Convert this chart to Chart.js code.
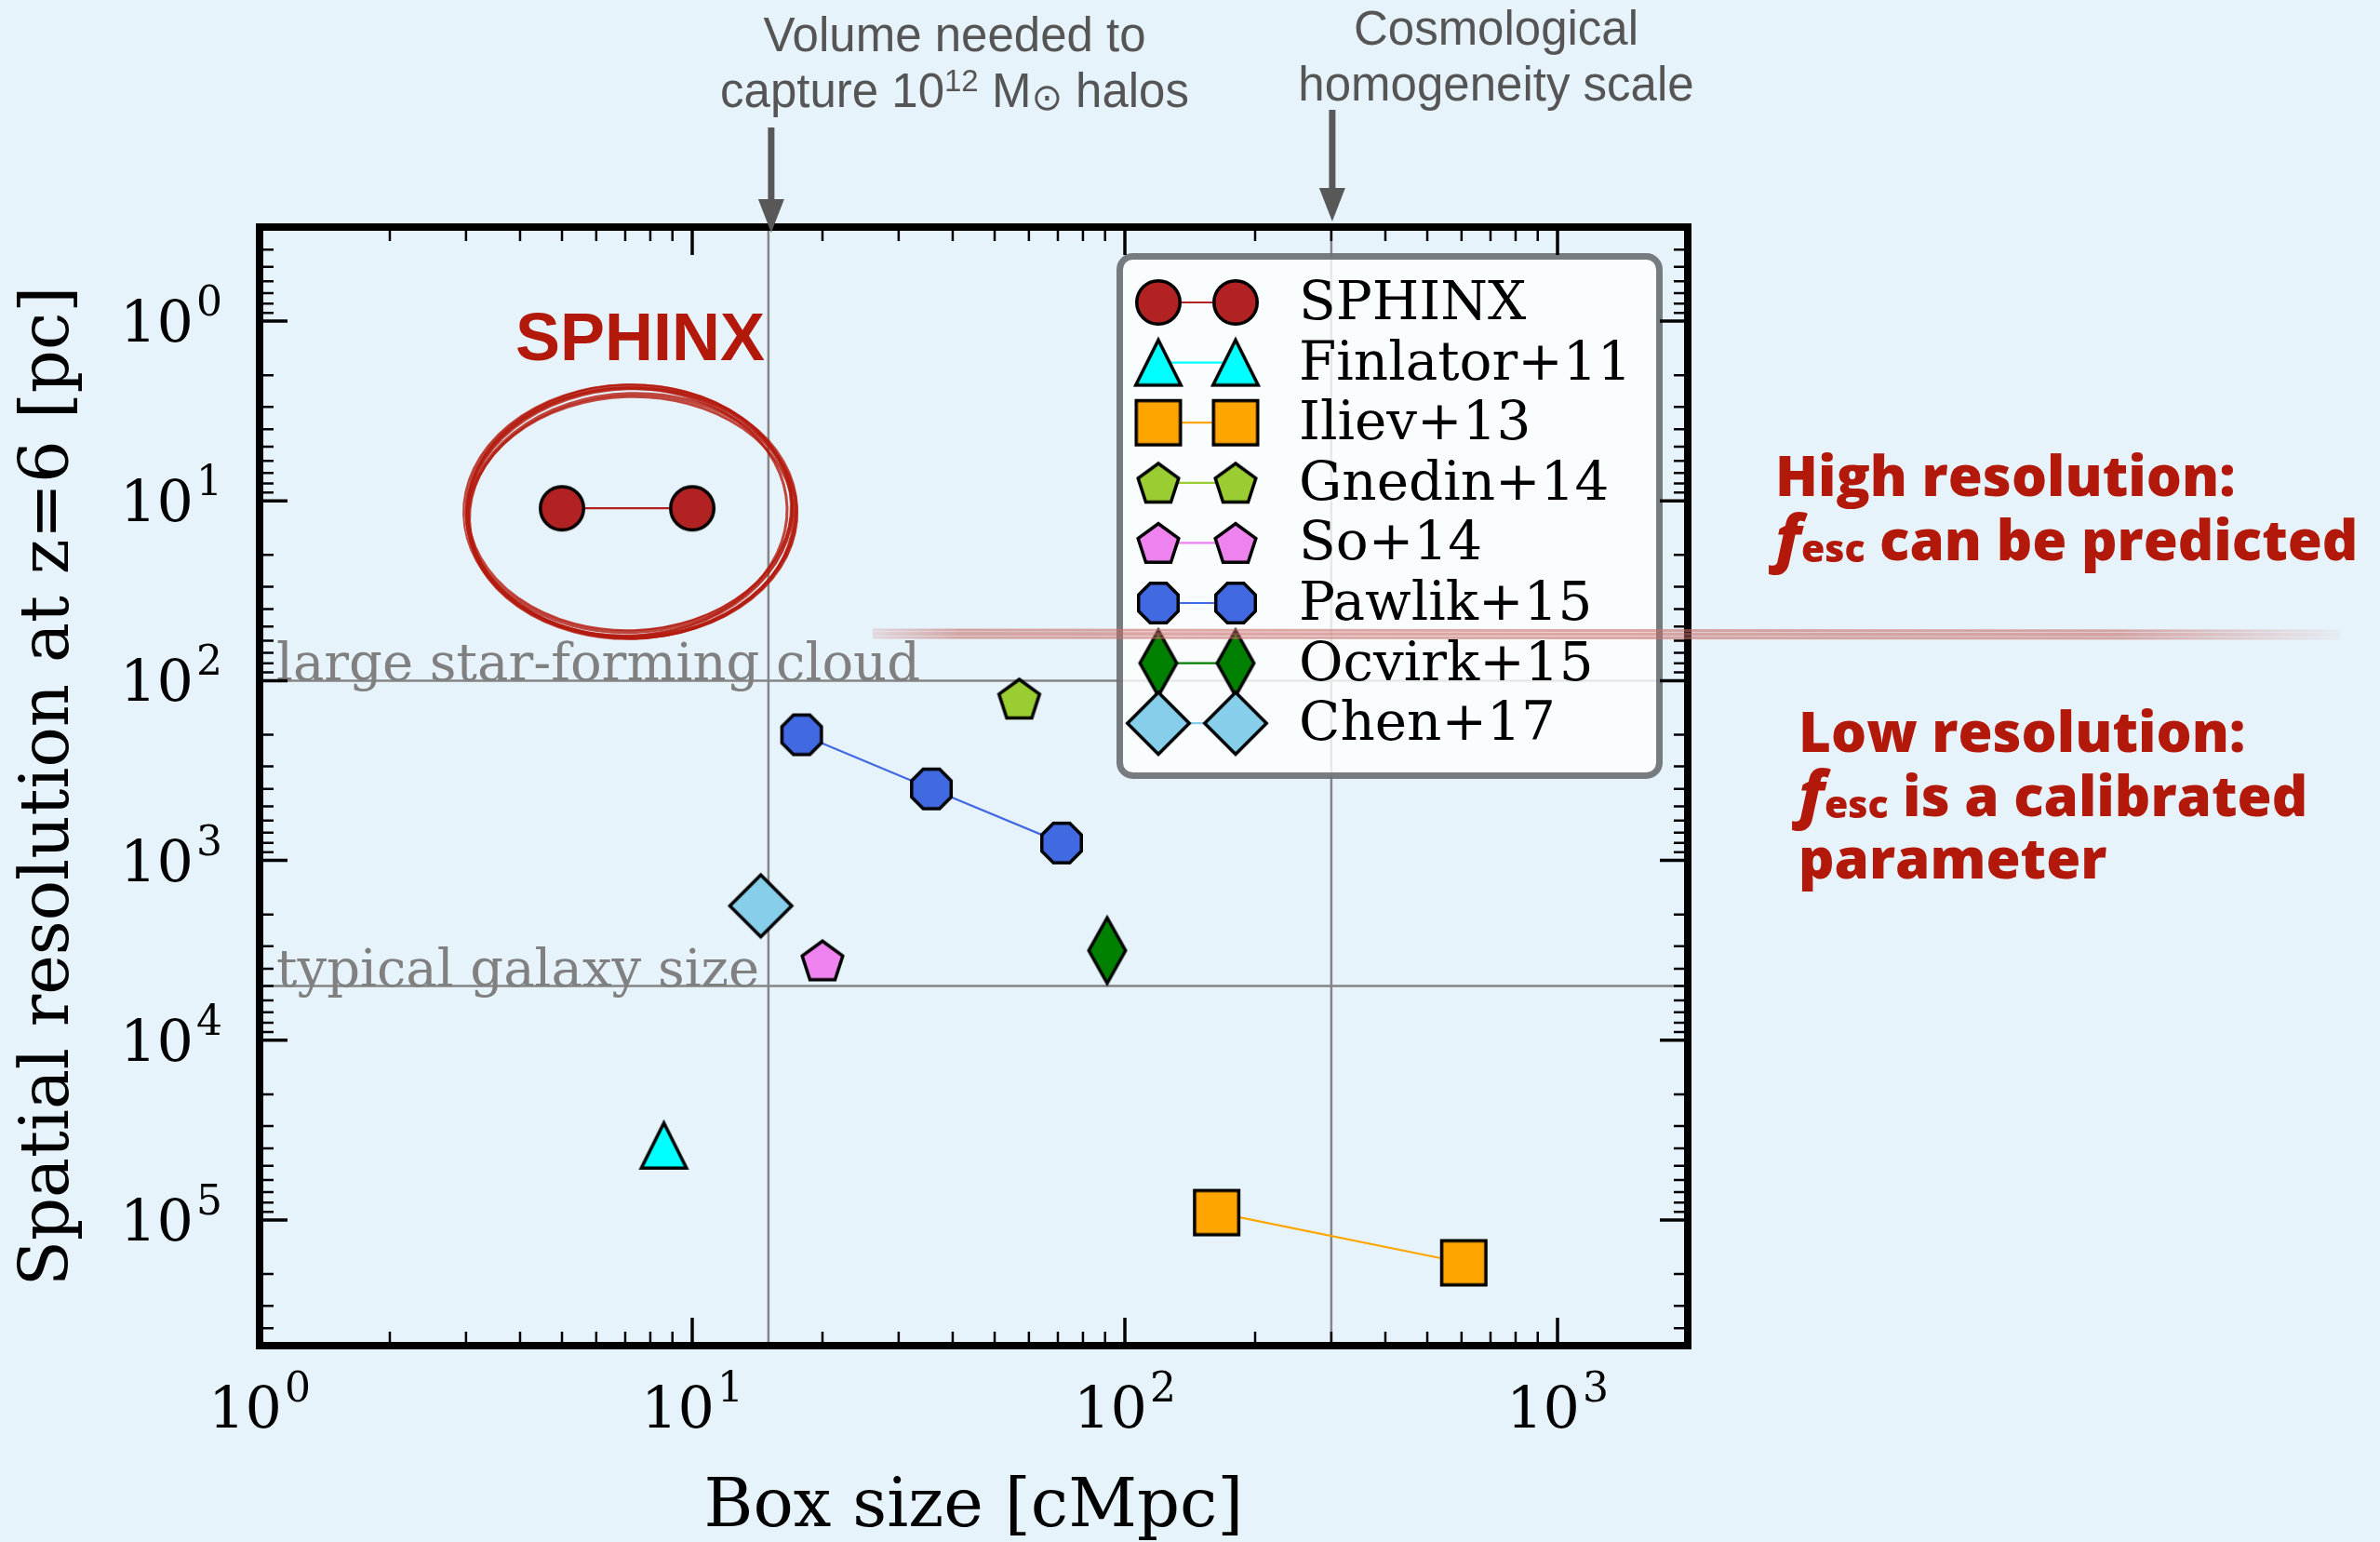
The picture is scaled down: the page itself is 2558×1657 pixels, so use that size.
<!DOCTYPE html>
<html>
<head>
<meta charset="utf-8">
<script src="https://cdn.jsdelivr.net/npm/chart.js@4.4.1/dist/chart.umd.min.js"></script>
<style>
  html, body { margin: 0; padding: 0; background: #e7f3fb; }
  #wrap { width: 2558px; height: 1657px; }
</style>
</head>
<body>
<div id="wrap"><canvas id="chart" width="2558" height="1657"></canvas></div>
<script>
// box size [cMpc] against spatial resolution at z=6 [pc]
const seriesNames = ['SPHINX', 'Finlator+11', 'Iliev+13', 'Gnedin+14', 'So+14', 'Pawlik+15', 'Ocvirk+15', 'Chen+17'];
const sphinxBox = [5, 10];
const sphinxRes = [11, 11];
const finlatorBox = [8.6];
const finlatorRes = [38500];
const ilievBox = [163, 607];
const ilievRes = [91000, 173000];
const gnedinBox = [57];
const gnedinRes = [126];
const soBox = [20];
const soRes = [3600];
const pawlikBox = [17.9, 35.7, 71.4];
const pawlikRes = [200, 400, 800];
const ocvirkBox = [91];
const ocvirkRes = [3170];
const chenBox = [14.4];
const chenRes = [1790];

// reference scales
const refBox = [15, 300];
const refRes = [100, 5000];
const refResLabels = ['large star-forming cloud', 'typical galaxy size'];

// axis limits and tick labels
const xMin = 1, xMax = 2000;
const yMin = 0.3, yMax = 5e5;
const xTickExponents = [0, 1, 2, 3];
const yTickExponents = [0, 1, 2, 3, 4, 5];

const RED = '#b3190b';

/**
 * Build a matplotlib-like marker as a canvas, used as pointStyle
 */
function marker(shape, fill, w, h) {
  const pad = 4;
  const c = document.createElement('canvas');
  c.width = Math.round(w + 2 * pad);
  c.height = Math.round(h + 2 * pad);
  const ctx = c.getContext('2d');
  const cx = c.width / 2, cy = c.height / 2;
  const rx = w / 2 - 1.75, ry = h / 2 - 1.75;
  ctx.beginPath();
  if (shape === 'circle') {
    ctx.ellipse(cx, cy, rx, ry, 0, 0, 2 * Math.PI);
  } else if (shape === 'triangle') {
    ctx.moveTo(cx, cy - ry);
    ctx.lineTo(cx + rx, cy + ry);
    ctx.lineTo(cx - rx, cy + ry);
  } else if (shape === 'square') {
    ctx.rect(cx - rx, cy - ry, 2 * rx, 2 * ry);
  } else if (shape === 'pentagon') {
    const r = (2 * ry) / 1.809;
    const c0 = cy - ry + r;
    for (let k = 0; k < 5; k++) {
      const a = -Math.PI / 2 + k * 2 * Math.PI / 5;
      ctx.lineTo(cx + r * Math.cos(a), c0 + r * Math.sin(a));
    }
  } else if (shape === 'octagon') {
    const r = rx / Math.cos(Math.PI / 8);
    for (let k = 0; k < 8; k++) {
      const a = Math.PI / 8 + k * Math.PI / 4;
      ctx.lineTo(cx + r * Math.cos(a), cy + r * Math.sin(a));
    }
  } else {
    ctx.moveTo(cx, cy - ry);
    ctx.lineTo(cx + rx, cy);
    ctx.lineTo(cx, cy + ry);
    ctx.lineTo(cx - rx, cy);
  }
  ctx.closePath();
  ctx.fillStyle = fill;
  ctx.fill();
  ctx.lineWidth = 3.5;
  ctx.lineJoin = 'miter';
  ctx.strokeStyle = '#000';
  ctx.stroke();
  return c;
}

function series(label, xs, ys, color, style) {
  return {
    label: label,
    data: xs.map((x, i) => ({x: x, y: ys[i]})),
    showLine: true,
    borderColor: color,
    backgroundColor: color,
    borderWidth: 2.2,
    pointStyle: style,
    pointRadius: 25,
    pointHoverRadius: 25,
    order: 0
  };
}

const datasets = [
  series(seriesNames[0], sphinxBox, sphinxRes, '#b22222', marker('circle', '#b22222', 50, 50)),
  series(seriesNames[1], finlatorBox, finlatorRes, '#00ffff', marker('triangle', '#00ffff', 52, 52)),
  series(seriesNames[2], ilievBox, ilievRes, '#ffa500', marker('square', '#ffa500', 51, 51)),
  series(seriesNames[3], gnedinBox, gnedinRes, '#9acd32', marker('pentagon', '#9acd32', 48, 45)),
  series(seriesNames[4], soBox, soRes, '#ee82ee', marker('pentagon', '#ee82ee', 48, 45)),
  series(seriesNames[5], pawlikBox, pawlikRes, '#4169e1', marker('octagon', '#4169e1', 46, 46)),
  series(seriesNames[6], ocvirkBox, ocvirkRes, '#008000', marker('diamond', '#008000', 43, 74)),
  series(seriesNames[7], chenBox, chenRes, '#87ceeb', marker('diamond', '#87ceeb', 70, 70))
];

refBox.forEach(v => datasets.push({
  data: [{x: v, y: yMin}, {x: v, y: yMax}],
  showLine: true, borderColor: '#858585', borderWidth: 2.5,
  pointRadius: 0, order: 5, isRef: true
}));
refRes.forEach(v => datasets.push({
  data: [{x: xMin, y: v}, {x: xMax, y: v}],
  showLine: true, borderColor: '#858585', borderWidth: 2.5,
  pointRadius: 0, order: 5, isRef: true
}));

function logTicks(min, max) {
  const major = [], minor = [];
  for (let e = Math.floor(Math.log10(min)); e <= Math.ceil(Math.log10(max)); e++) {
    for (let m = 1; m < 10; m++) {
      const v = m * Math.pow(10, e);
      if (v < min * 0.999 || v > max * 1.001) continue;
      (m === 1 ? major : minor).push(v);
    }
  }
  return {major, minor};
}

// "10" with a raised exponent
function drawPower(ctx, exp, x, baseline, align) {
  ctx.font = '62px "DejaVu Serif"';
  const w1 = ctx.measureText('10').width;
  ctx.font = '44px "DejaVu Serif"';
  const w2 = ctx.measureText(String(exp)).width;
  const total = w1 + 3 + w2;
  const x0 = align === 'right' ? x - total : x - total / 2;
  ctx.textAlign = 'left';
  ctx.textBaseline = 'alphabetic';
  ctx.fillStyle = '#000';
  ctx.font = '62px "DejaVu Serif"';
  ctx.fillText('10', x0, baseline);
  ctx.font = '44px "DejaVu Serif"';
  ctx.fillText(String(exp), x0 + w1 + 3, baseline - 28);
}

// text made of runs with different fonts / offsets
function drawRuns(ctx, runs, x, baseline, align) {
  let total = 0;
  runs.forEach(r => { ctx.font = r.font; r.w = ctx.measureText(r.t).width; total += r.w; });
  let cx = align === 'center' ? x - total / 2 : x;
  ctx.textAlign = 'left';
  ctx.textBaseline = 'alphabetic';
  runs.forEach(r => {
    ctx.font = r.font;
    ctx.fillText(r.t, cx, baseline + (r.dy || 0));
    cx += r.w;
  });
}

function arrow(ctx, x, y0, y1) {
  ctx.save();
  ctx.strokeStyle = '#585858';
  ctx.fillStyle = '#585858';
  ctx.lineWidth = 7;
  ctx.beginPath();
  ctx.moveTo(x, y0);
  ctx.lineTo(x, y1 - 30);
  ctx.stroke();
  ctx.beginPath();
  ctx.moveTo(x - 14, y1 - 36);
  ctx.lineTo(x + 14, y1 - 36);
  ctx.lineTo(x, y1);
  ctx.closePath();
  ctx.fill();
  ctx.restore();
}

const frame = {
  id: 'frame',
  afterDatasetsDraw(chart) {
    const {ctx, chartArea: a, scales: {x, y}} = chart;
    ctx.save();

    // reference line labels
    ctx.fillStyle = '#808080';
    ctx.font = '56px "DejaVu Serif"';
    ctx.textAlign = 'left';
    ctx.textBaseline = 'alphabetic';
    refRes.forEach((v, i) => ctx.fillText(refResLabels[i], a.left + 18, y.getPixelForValue(v)));

    // hand drawn ring around SPHINX
    const sp = chart.getDatasetMeta(0).data;
    const cx = (sp[0].x + sp[1].x) / 2 + 2;
    const cy = sp[0].y + 1;
    const strokes = [[0, 0, 0, 0, 4], [3, 4, 2, 2, 4], [-2, 3, -3, 1, 3], [4, 7, 1, -1, 4],
      [1, -2, -1, 0, 2], [2, 9, 0, -2, 3], [-1, 1, 2, 3, 2]];
    ctx.strokeStyle = 'rgba(180,26,14,0.8)';
    strokes.forEach(s => {
      ctx.lineWidth = s[4];
      ctx.beginPath();
      ctx.ellipse(cx + s[0], cy + s[1], 175 + s[2], 132 + s[3], -0.03, 0, 2 * Math.PI);
      ctx.stroke();
    });
    ctx.fillStyle = RED;
    ctx.font = 'bold 72px "Liberation Sans"';
    ctx.textAlign = 'center';
    ctx.fillText('SPHINX', cx + 12, cy - 160);

    // legend
    const L = {x: 1200, y: 272, w: 587, h: 565};
    ctx.beginPath();
    ctx.roundRect(L.x + 3.5, L.y + 3.5, L.w - 7, L.h - 7, 14);
    ctx.fillStyle = 'rgba(255,255,255,0.8)';
    ctx.fill();
    ctx.lineWidth = 7;
    ctx.strokeStyle = 'rgba(105,110,114,0.9)';
    ctx.stroke();
    chart.data.datasets.forEach((ds, i) => {
      if (ds.isRef) return;
      const ry = 325 + i * 64.6;
      ctx.strokeStyle = ds.borderColor;
      ctx.lineWidth = 2.2;
      ctx.beginPath();
      ctx.moveTo(1245, ry);
      ctx.lineTo(1328, ry);
      ctx.stroke();
      [1245, 1328].forEach(px => {
        const m = ds.pointStyle;
        ctx.drawImage(m, px - m.width / 2, ry - m.height / 2);
      });
      ctx.fillStyle = '#000';
      ctx.font = '58px "DejaVu Serif"';
      ctx.textAlign = 'left';
      ctx.textBaseline = 'middle';
      ctx.fillText(ds.label, 1396, ry + 3);
    });
    ctx.restore();
  },
  afterDraw(chart) {
    const {ctx, chartArea: a, scales: {x, y}} = chart;
    ctx.save();

    // inward ticks on all four sides
    ctx.strokeStyle = '#000';
    const xt = logTicks(xMin, xMax), yt = logTicks(yMin, yMax);
    [[xt.major, 30, 3.5], [xt.minor, 15, 2.5]].forEach(([vals, len, lw]) => {
      ctx.lineWidth = lw;
      vals.forEach(v => {
        const px = x.getPixelForValue(v);
        ctx.beginPath();
        ctx.moveTo(px, a.bottom); ctx.lineTo(px, a.bottom - len);
        ctx.moveTo(px, a.top); ctx.lineTo(px, a.top + len);
        ctx.stroke();
      });
    });
    [[yt.major, 30, 3.5], [yt.minor, 15, 2.5]].forEach(([vals, len, lw]) => {
      ctx.lineWidth = lw;
      vals.forEach(v => {
        const py = y.getPixelForValue(v);
        ctx.beginPath();
        ctx.moveTo(a.left, py); ctx.lineTo(a.left + len, py);
        ctx.moveTo(a.right, py); ctx.lineTo(a.right - len, py);
        ctx.stroke();
      });
    });
    ctx.lineWidth = 8;
    ctx.lineJoin = 'miter';
    ctx.strokeRect(a.left, a.top, a.right - a.left, a.bottom - a.top);

    // tick labels
    xTickExponents.forEach(e => drawPower(ctx, e, x.getPixelForValue(Math.pow(10, e)), a.bottom + 88, 'center'));
    yTickExponents.forEach(e => drawPower(ctx, e, a.left - 40, y.getPixelForValue(Math.pow(10, e)) + 22, 'right'));

    // brush stroke separating the two regimes
    const g = ctx.createLinearGradient(938, 0, 2515, 0);
    g.addColorStop(0, 'rgba(200,110,104,0.2)');
    g.addColorStop(0.06, 'rgba(200,110,104,0.6)');
    g.addColorStop(0.85, 'rgba(200,110,104,0.6)');
    g.addColorStop(1, 'rgba(200,110,104,0.05)');
    ctx.strokeStyle = g;
    [[677, 3], [681, 4], [685, 3]].forEach(([py, lw]) => {
      ctx.lineWidth = lw;
      ctx.beginPath();
      ctx.moveTo(938, py);
      ctx.lineTo(2515, py + 1);
      ctx.stroke();
    });

    // arrows and notes above the plot
    const xa = x.getPixelForValue(refBox[0]);
    const xb = x.getPixelForValue(refBox[1]);
    arrow(ctx, xa + 3, 137, a.top + 6);
    arrow(ctx, xb + 1, 118, a.top - 6);
    ctx.fillStyle = '#555';
    const sans = '"Liberation Sans"';
    drawRuns(ctx, [{t: 'Volume needed to', font: '51px ' + sans}], 1026, 55, 'center');
    drawRuns(ctx, [
      {t: 'capture 10', font: '51px ' + sans},
      {t: '12', font: '33px ' + sans, dy: -17},
      {t: ' M', font: '51px ' + sans},
      {t: '\u2299', font: '40px "DejaVu Sans"', dy: 3},
      {t: ' halos', font: '51px ' + sans}
    ], 1026, 115, 'center');
    drawRuns(ctx, [{t: 'Cosmological', font: '51px ' + sans}], 1608, 48, 'center');
    drawRuns(ctx, [{t: 'homogeneity scale', font: '51px ' + sans}], 1608, 108, 'center');

    // regime notes on the right
    ctx.fillStyle = RED;
    const bold = '800 60px "Open Sans"';
    const fI = 'italic 800 68px "Open Sans"';
    const sub = '800 41px "Open Sans"';
    drawRuns(ctx, [{t: 'High resolution:', font: bold}], 1908, 533, 'left');
    drawRuns(ctx, [{t: 'f', font: fI}, {t: 'esc', font: sub, dy: 2}, {t: ' can be predicted', font: bold}], 1908, 602, 'left');
    drawRuns(ctx, [{t: 'Low resolution:', font: bold}], 1933, 808, 'left');
    drawRuns(ctx, [{t: 'f', font: fI}, {t: 'esc', font: sub, dy: 2}, {t: ' is a calibrated', font: bold}], 1933, 877, 'left');
    drawRuns(ctx, [{t: 'parameter', font: bold}], 1933, 944, 'left');
    ctx.restore();
  }
};

new Chart(document.getElementById('chart'), {
  type: 'scatter',
  data: {datasets: datasets},
  options: {
    responsive: false,
    animation: false,
    devicePixelRatio: 1,
    layout: {padding: {top: 244, right: 744, bottom: 0, left: 0}, autoPadding: false},
    plugins: {legend: {display: false}, tooltip: {enabled: false}},
    scales: {
      x: {
        type: 'logarithmic', min: xMin, max: xMax,
        grid: {display: false}, border: {display: false}, ticks: {display: false},
        title: {display: true, text: 'Box size [cMpc]', color: '#000',
          font: {family: 'DejaVu Serif', size: 72, lineHeight: 1}, padding: {top: 0, bottom: 0}},
        afterFit: s => { s.height = 211; }
      },
      y: {
        type: 'logarithmic', min: yMin, max: yMax, reverse: true,
        grid: {display: false}, border: {display: false}, ticks: {display: false},
        title: {display: true, text: 'Spatial resolution at z=6 [pc]', color: '#000',
          font: {family: 'DejaVu Serif', size: 72, lineHeight: 1}, padding: {top: 18, bottom: 0}},
        afterFit: s => { s.width = 279; }
      }
    }
  },
  plugins: [frame]
});
</script>
</body>
</html>
